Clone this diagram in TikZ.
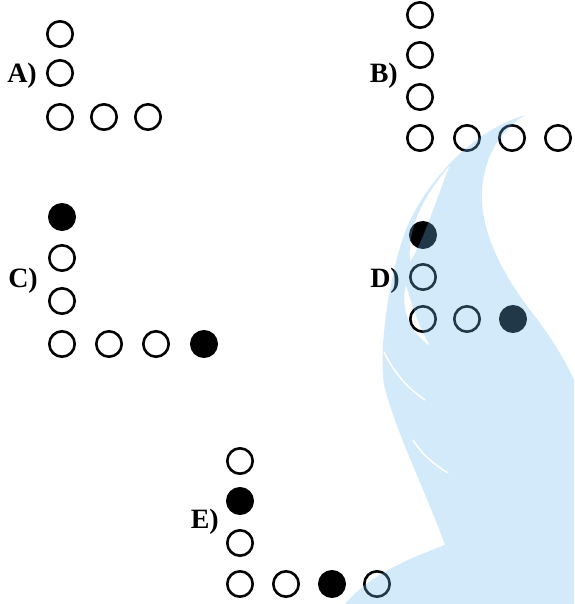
\documentclass[tikz,border=0pt]{standalone}
\usepackage{fontspec}
\setmainfont{Liberation Serif}
\definecolor{wmblue}{rgb}{0.43,0.73,0.95}
\begin{document}
\begin{tikzpicture}[x=1pt,y=-1pt,
  ring/.style={circle,draw=black,line width=2.6pt,minimum size=25.4pt,inner sep=0pt},
  dot/.style={ring,fill=black},
  lbl/.style={anchor=base east,inner sep=0pt,font=\fontsize{28}{28}\selectfont\bfseries},
  wm/.style={fill=wmblue,opacity=0.3,even odd rule},
  streak/.style={white,line width=1.5pt}]
\useasboundingbox (0,0) rectangle (574,604);
% A
\node[lbl] (la) at (37,83) {A)};
\node[ring] (a1) at (60,34) {};
\node[ring] (a2) at (60,73) {};
\node[ring] (a3) at (60,117) {};
\node[ring] (a4) at (104,117) {};
\node[ring] (a5) at (148,117) {};
% B
\node[lbl] (lb) at (398,83) {B)};
\node[ring] (b1) at (420,15) {};
\node[ring] (b2) at (420,55) {};
\node[ring] (b3) at (420,97) {};
\node[ring] (b4) at (420,138) {};
\node[ring] (b5) at (467,138) {};
\node[ring] (b6) at (512,138) {};
\node[ring] (b7) at (558,138) {};
% C
\node[lbl] (lc) at (38,287) {C)};
\node[dot] (c1) at (62,217) {};
\node[ring] (c2) at (62,258) {};
\node[ring] (c3) at (62,301) {};
\node[ring] (c4) at (62,344) {};
\node[ring] (c5) at (109,344) {};
\node[ring] (c6) at (156,344) {};
\node[dot] (c7) at (204,344) {};
% D
\node[lbl] (ld) at (400,287) {D)};
\node[dot] (d1) at (423,235) {};
\node[ring] (d2) at (423,277) {};
\node[ring] (d3) at (423,319) {};
\node[ring] (d4) at (467,319) {};
\node[dot] (d5) at (513,319) {};
% E
\node[lbl] (le) at (219,528) {E)};
\node[ring] (e1) at (240,461) {};
\node[dot] (e2) at (240,501) {};
\node[ring] (e3) at (240,543) {};
\node[ring] (e4) at (240,584) {};
\node[ring] (e5) at (286,584) {};
\node[dot] (e6) at (332,584) {};
\node[ring] (e7) at (377,584) {};
% watermark
\fill[wm] (525,115) .. controls (505,128) and (485,150) .. (482,190)
  .. controls (480,230) and (500,270) .. (530,310)
  .. controls (550,335) and (565,360) .. (574,380)
  -- (574,604) -- (345,604)
  .. controls (370,575) and (405,560) .. (445,545)
  .. controls (425,490) and (395,430) .. (384,385)
  .. controls (378,340) and (392,270) .. (403,238)
  .. controls (415,200) and (460,135) .. (525,115) -- cycle
  (450,165) .. controls (425,195) and (407,225) .. (410,262)
  .. controls (424,240) and (436,200) .. (450,165) -- cycle
  (406,285) .. controls (400,310) and (410,332) .. (430,346)
  .. controls (418,325) and (412,305) .. (406,285) -- cycle;
\draw[streak] (384,352) .. controls (395,375) and (410,390) .. (425,400);
\draw[streak] (413,440) .. controls (422,455) and (435,465) .. (448,473);
\end{tikzpicture}
\end{document}
